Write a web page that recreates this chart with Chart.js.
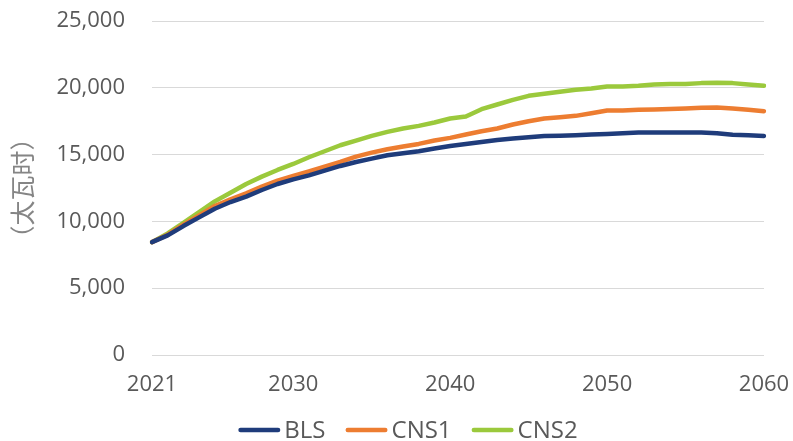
<!DOCTYPE html>
<html>
<head>
<meta charset="utf-8">
<script src="https://cdn.jsdelivr.net/npm/chart.js@4.4.1/dist/chart.umd.min.js"></script>
<style>
  html, body { margin: 0; padding: 0; background: #ffffff; }
  #wrap { width: 793px; height: 441px; position: relative; }
</style>
</head>
<body>
<div id="wrap"><canvas id="c" width="793" height="441"></canvas></div>
<script>
// Years on the horizontal axis
const years = [
  '2021','2022','2023','2024','2025','2026','2027','2028','2029','2030',
  '2031','2032','2033','2034','2035','2036','2037','2038','2039','2040',
  '2041','2042','2043','2044','2045','2046','2047','2048','2049','2050',
  '2051','2052','2053','2054','2055','2056','2057','2058','2059','2060'
];

// Only these years get a printed label
const shownYears = ['2021', '2030', '2040', '2050', '2060'];

// Electricity demand per scenario (TWh)
const bls = [
  8450, 8950, 9650, 10300, 10950, 11450, 11850, 12350, 12800, 13150,
  13450, 13800, 14150, 14450, 14700, 14950, 15100, 15250, 15450, 15650,
  15800, 15950, 16100, 16200, 16300, 16400, 16420, 16450, 16500, 16550,
  16600, 16650, 16650, 16660, 16660, 16650, 16600, 16480, 16450, 16400
];
const cns1 = [
  8450, 9000, 9750, 10450, 11150, 11650, 12100, 12600, 13050, 13400,
  13750, 14100, 14450, 14850, 15150, 15400, 15600, 15800, 16050, 16250,
  16500, 16750, 16950, 17250, 17500, 17700, 17800, 17900, 18100, 18300,
  18300, 18350, 18380, 18420, 18450, 18500, 18530, 18450, 18350, 18250
];
const cns2 = [
  8450, 9100, 9900, 10700, 11500, 12150, 12800, 13350, 13850, 14300,
  14800, 15250, 15700, 16050, 16400, 16700, 16950, 17150, 17400, 17700,
  17850, 18400, 18750, 19100, 19400, 19550, 19700, 19850, 19950, 20100,
  20100, 20150, 20250, 20280, 20280, 20350, 20380, 20350, 20250, 20150
];

const seriesNames = ['BLS', 'CNS1', 'CNS2'];
const seriesColors = ['#1f3c7b', '#ed7d31', '#9bc93c'];

const yTicks = { min: 0, max: 25000, step: 5000 };
const yTitle = '（太瓦时）';

const textColor = '#595959';
const tickFont = { family: '"Open Sans", "DejaVu Sans", sans-serif', size: 22 };

// Legend drawn as a row of line swatches under the axis
const lineLegend = {
  id: 'lineLegend',
  afterDraw(chart, args, o) {
    const ctx = chart.ctx;
    ctx.save();
    ctx.font = `${o.size}px ${o.family}`;
    ctx.textBaseline = 'middle';
    ctx.textAlign = 'left';
    const items = chart.data.datasets.map(ds => ({
      text: ds.label, color: ds.borderColor, w: ctx.measureText(ds.label).width
    }));
    const total = items.reduce((s, it) => s + o.swatch + o.gap + it.w, 0) + o.spacing * (items.length - 1);
    let x = o.centerX - total / 2;
    for (const it of items) {
      ctx.strokeStyle = it.color;
      ctx.lineWidth = o.thickness;
      ctx.lineCap = 'round';
      ctx.beginPath();
      ctx.moveTo(x + o.thickness / 2, o.y);
      ctx.lineTo(x + o.swatch - o.thickness / 2, o.y);
      ctx.stroke();
      ctx.fillStyle = o.color;
      ctx.fillText(it.text, x + o.swatch + o.gap, o.y + 1);
      x += o.swatch + o.gap + it.w + o.spacing;
    }
    ctx.restore();
  }
};

const datasets = [bls, cns1, cns2].map((values, i) => ({
  label: seriesNames[i],
  data: values,
  borderColor: seriesColors[i],
  backgroundColor: seriesColors[i],
  borderWidth: 4.5,
  borderCapStyle: 'round',
  borderJoinStyle: 'round',
  pointRadius: 0,
  pointHoverRadius: 0,
  tension: 0,
  fill: false
}));

new Chart(document.getElementById('c'), {
  type: 'line',
  data: { labels: years, datasets },
  plugins: [lineLegend],
  options: {
    responsive: false,
    animation: false,
    events: [],
    layout: { padding: { left: 0, right: 29, top: 21, bottom: 46 } },
    plugins: {
      legend: { display: false },
      tooltip: { enabled: false },
      lineLegend: {
        centerX: 408,
        y: 430,
        swatch: 42,
        thickness: 4.5,
        gap: 4,
        spacing: 20,
        size: 24,
        family: '"Open Sans", "DejaVu Sans", sans-serif',
        color: textColor
      }
    },
    scales: {
      x: {
        type: 'category',
        offset: false,
        grid: { display: false, drawTicks: false },
        border: { display: false },
        ticks: {
          autoSkip: false,
          maxRotation: 0,
          minRotation: 0,
          padding: 17,
          color: textColor,
          font: tickFont,
          callback(value) {
            const lab = this.getLabelForValue(value);
            return shownYears.includes(lab) ? lab : '';
          }
        },
        afterFit(scale) {
          scale.height = 40;
          scale.paddingLeft = 0;
          scale.paddingRight = 0;
        }
      },
      y: {
        min: yTicks.min,
        max: yTicks.max,
        grid: { color: '#d9d9d9', lineWidth: 1, drawTicks: false },
        border: { display: false },
        ticks: {
          stepSize: yTicks.step,
          padding: 27,
          color: textColor,
          font: tickFont,
          callback(v) { return v.toLocaleString('en-US'); }
        },
        title: {
          display: true,
          text: yTitle,
          color: '#858585',
          font: { family: '"Noto Sans CJK SC", sans-serif', size: 25 },
          padding: { top: 7, bottom: 0 }
        },
        afterFit(scale) {
          scale.width = 152;
          scale.paddingTop = 0;
          scale.paddingBottom = 0;
        }
      }
    }
  }
});
</script>
</body>
</html>
